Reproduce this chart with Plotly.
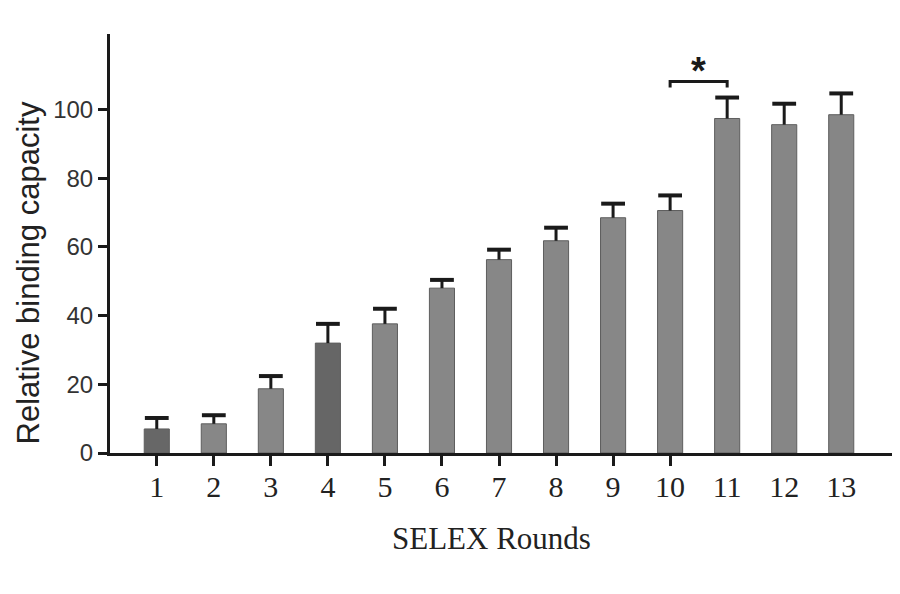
import plotly.graph_objects as go

# SELEX round binding data
rounds = list(range(1, 14))
binding = [7, 8.5, 18.7, 32, 37.6, 48, 56.3, 61.8, 68.5, 70.6, 97.4, 95.6, 98.5]
err_up = [3.2, 2.5, 3.7, 5.6, 4.4, 2.4, 2.9, 3.8, 4.1, 4.4, 6.1, 6.1, 6.2]
bar_colors = ["#676767", "#878787", "#878787", "#666666", "#878787", "#878787", "#878787",
              "#878787", "#878787", "#878787", "#868686", "#868686", "#868686"]
tick_rounds = list(range(1, 11))  # original only has tick marks under rounds 1-10

err_top = [b + e for b, e in zip(binding, err_up)]

fig = go.Figure()

fig.add_trace(go.Bar(
    x=rounds,
    y=binding,
    width=0.44,
    marker=dict(color=bar_colors, line=dict(color="#5e5e5e", width=1)),
    showlegend=False,
    hoverinfo="x+y",
))

# one-sided error bars: stem from bar top, cap only at the upper end
fig.add_trace(go.Scatter(
    x=rounds, y=err_top,
    mode="markers",
    marker=dict(symbol="line-ew-open", size=17, color="#1a1a1a",
                line=dict(color="#1a1a1a", width=4)),
    error_y=dict(type="data", symmetric=False, array=[0] * len(err_up), arrayminus=err_up,
                 color="#1a1a1a", thickness=3, width=0),
    showlegend=False, hoverinfo="skip",
))

# invisible trace to carry tick marks on a second x axis
fig.add_trace(go.Scatter(x=tick_rounds, y=[0] * len(tick_rounds), xaxis="x2",
                         mode="markers", marker=dict(opacity=0), showlegend=False,
                         hoverinfo="skip"))

# page body has an 8px margin, so the figure is a bit smaller than the window
fig.update_layout(
    width=884, height=578,
    margin=dict(l=102, r=0, t=26, b=133),
    plot_bgcolor="white", paper_bgcolor="white",
    xaxis=dict(
        range=[0.18, 13.89],
        tickvals=rounds,
        ticktext=[str(r) for r in rounds],
        ticks="", ticklabelstandoff=5,
        showline=True, linecolor="#1a1a1a", linewidth=3,
        showgrid=False, zeroline=False,
        tickfont=dict(family="Liberation Serif", size=30, color="#222222"),
    ),
    xaxis2=dict(
        overlaying="x", side="bottom", anchor="y",
        range=[0.18, 13.89],
        tickvals=tick_rounds,
        showticklabels=False,
        ticks="outside", ticklen=12, tickwidth=3, tickcolor="#1a1a1a",
        showline=False, showgrid=False, zeroline=False,
    ),
    yaxis=dict(
        range=[0, 122],
        tickvals=[0, 20, 40, 60, 80, 100],
        ticks="outside", ticklen=9, tickwidth=3, tickcolor="#1a1a1a",
        ticklabelstandoff=0,
        showline=True, linecolor="#1a1a1a", linewidth=3,
        showgrid=False, zeroline=False,
        tickfont=dict(family="Liberation Sans", size=24, color="#333333"),
    ),
)

# axis titles as annotations for exact placement
fig.add_annotation(text="Relative binding capacity", xref="paper", yref="paper",
                   x=-0.104, y=0.43, textangle=-90, showarrow=False,
                   xanchor="center", yanchor="middle",
                   font=dict(family="Liberation Sans", size=31, color="#222222"))
fig.add_annotation(text="SELEX Rounds", xref="paper", yref="paper",
                   x=0.488, y=-0.203, showarrow=False,
                   xanchor="center", yanchor="middle",
                   font=dict(family="Liberation Serif", size=31, color="#222222"))

# significance bracket between rounds 10 and 11
fig.add_shape(type="path", xref="x", yref="y",
              path="M 10,106.4 L 10,108.2 L 11,108.2 L 11,106.4",
              line=dict(color="#1a1a1a", width=3))
fig.add_annotation(x=10.5, y=111.3, xref="x", yref="y", text="<b>*</b>", showarrow=False,
                   yanchor="middle", font=dict(family="Liberation Sans", size=38, color="#1a1a1a"))

fig.write_html("out.html")
